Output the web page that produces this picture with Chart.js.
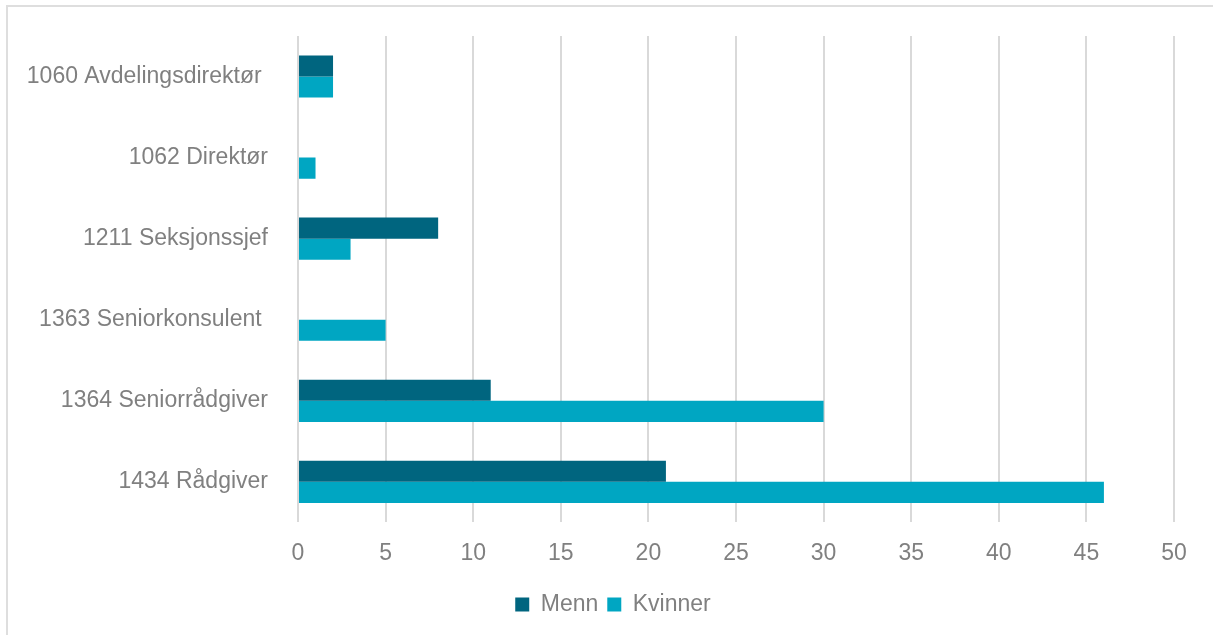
<!DOCTYPE html>
<html>
<head>
<meta charset="utf-8">
<script src="https://cdn.jsdelivr.net/npm/chart.js@4"></script>
<style>
  body { margin: 0; background: #fff; }
  #ramme { position: absolute; left: 6px; top: 5px; width: 1215px; height: 640px; border: 2px solid #dedede; box-sizing: border-box; }
  #boks { position: absolute; left: 0; top: 0; width: 1213px; height: 635px; }
</style>
</head>
<body>
<div id="ramme"></div>
<div id="boks"><canvas id="chart"></canvas></div>
<script>
let kategorier = ['1060 Avdelingsdirektør ', '1062 Direktør', '1211 Seksjonssjef', '1363 Seniorkonsulent ', '1364 Seniorrådgiver', '1434 Rådgiver'];
let menn = [2, 0, 8, 0, 11, 21];
let kvinner = [2, 1, 3, 5, 30, 46];

Chart.defaults.font.family = '"Liberation Sans", Arial, sans-serif';
Chart.defaults.color = '#808080';

let datos = {
    labels: kategorier,
    datasets: [
        {
            label: 'Menn',
            data: menn,
            backgroundColor: '#00657f',
            categoryPercentage: 0.52,
            barPercentage: 1,
        },
        {
            label: 'Kvinner',
            data: kvinner,
            backgroundColor: '#00a6c2',
            categoryPercentage: 0.52,
            barPercentage: 1,
        },
    ]
};

let opciones = {
    indexAxis: 'y',
    responsive: true,
    maintainAspectRatio: false,
    animation: false,
    layout: { padding: { top: 36, right: 39, left: 10, bottom: 9 } },
    scales: {
        x: {
            min: 0,
            max: 50,
            ticks: { stepSize: 5, font: { size: 23 }, padding: 17 },
            grid: { color: '#d9d9d9', lineWidth: 2, drawTicks: false },
            border: { display: false }
        },
        y: {
            ticks: { font: { size: 23 }, padding: 22 },
            grid: { display: false },
            border: { display: false },
            afterFit: (skala) => { skala.width = 288; }
        }
    },
    plugins: {
        legend: {
            position: 'bottom',
            align: 'center',
            labels: { font: { size: 23 }, boxWidth: 14, boxHeight: 14, padding: 9 }
        },
        tooltip: { enabled: false }
    },
};

// flytt legenden litt mot høyre, som i originalen
let flyttLegende = {
    id: 'flyttLegende',
    afterLayout(chart) {
        chart.legend.left += 42;
    }
};

let ctx = document.getElementById('chart');

let miGrafica = new Chart(ctx, {
    type: 'bar',
    data: datos,
    options: opciones,
    plugins: [flyttLegende]
});
</script>
</body>
</html>
